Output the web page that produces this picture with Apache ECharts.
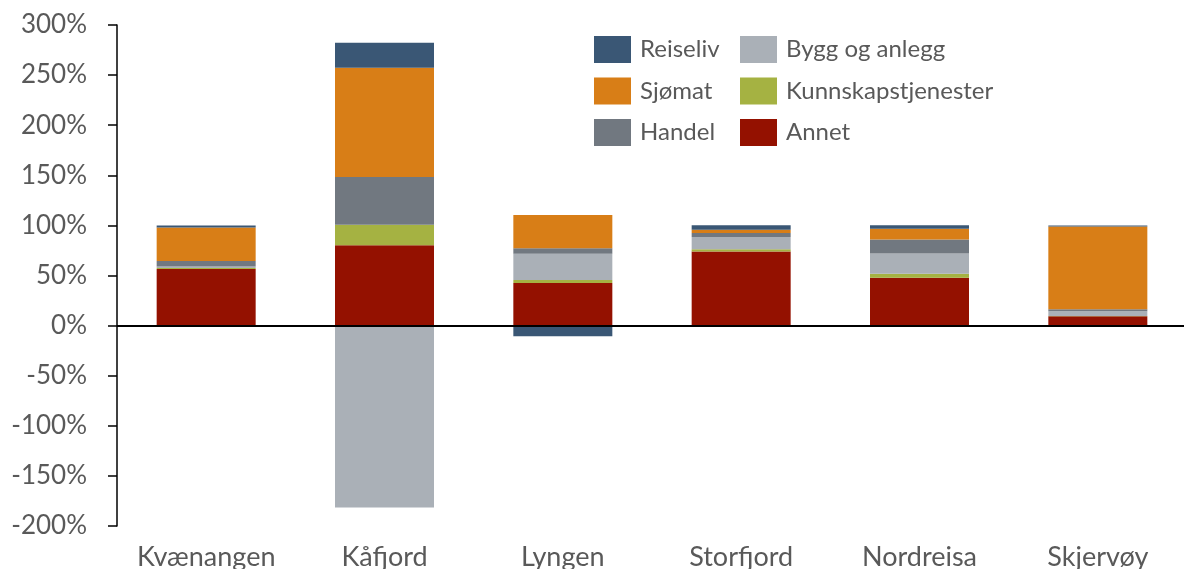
<!DOCTYPE html>
<html>
<head>
<meta charset="utf-8">
<script src="https://cdn.jsdelivr.net/npm/echarts@6/dist/echarts.min.js"></script>
<style>
  html, body { margin: 0; padding: 0; background: #fff; }
  #chart { width: 1184px; height: 569px; }
</style>
</head>
<body>
<div id="chart"></div>
<script>
// kommuner
var categories = ['Kvænangen', 'Kåfjord', 'Lyngen', 'Storfjord', 'Nordreisa', 'Skjervøy'];

// andel av vekst, prosent (lest av bildet)
var annet       = [56.5,  80.3, 42.5, 74.0, 47.8,  9.3];
var kunnskap    = [ 1.0,  20.3,  3.0,  2.3,  4.0,  0.3];
var bygg        = [ 1.5, -181.5, 26.2, 12.0, 20.2,  4.6];
var handel      = [ 5.5,  47.8,  5.6,  4.0, 14.0,  2.0];
var sjomat      = [33.5, 109.0, 33.2,  3.3, 10.6, 82.6];
var reiseliv    = [ 2.0,  25.0, -10.6, 4.6,  3.6,  1.2];

var yTicks = { min: -200, max: 300, interval: 50 };

var colors = {
    'Reiseliv': '#3a5775',
    'Sjømat': '#d87e17',
    'Handel': '#717880',
    'Bygg og anlegg': '#aab0b7',
    'Kunnskapstjenester': '#a5b242',
    'Annet': '#941100'
};

var textColor = '#595959';
var fontFam = 'Lato, "Open Sans", sans-serif';

function bar(name, data) {
    return {
        name: name,
        type: 'bar',
        stack: 'total',
        barWidth: 99,
        data: data,
        itemStyle: { color: colors[name] },
        emphasis: { disabled: true }
    }
}

var legendBase = {
    orient: 'vertical',
    top: 36,
    padding: 0,
    itemWidth: 37,
    itemHeight: 27,
    itemGap: 14.5,
    icon: 'rect',
    selectedMode: false,
    textStyle: { color: textColor, fontSize: 24, fontFamily: fontFam, padding: [0, 0, 0, 4] }
};

var series = [
    bar('Annet', annet),
    bar('Kunnskapstjenester', kunnskap),
    bar('Bygg og anlegg', bygg),
    bar('Handel', handel),
    bar('Sjømat', sjomat),
    bar('Reiseliv', reiseliv)
];
// nullinje
series[0].markLine = {
    silent: true,
    symbol: ['none', 'none'],
    label: { show: false },
    lineStyle: { color: '#000', width: 2, type: 'solid' },
    data: [{ yAxis: 0 }]
};

var option = {
    animation: false,
    backgroundColor: '#fff',
    grid: { left: 117, top: 25, width: 1070, bottom: 43, containLabel: false, outerBoundsMode: 'none' },
    legend: [
        Object.assign({}, legendBase, { left: 594, data: ['Reiseliv', 'Sjømat', 'Handel'] }),
        Object.assign({}, legendBase, { left: 740, data: ['Bygg og anlegg', 'Kunnskapstjenester', 'Annet'] })
    ],
    xAxis: {
        type: 'category',
        data: categories,
        axisLine: { show: false, onZero: false },
        axisTick: { show: false },
        axisLabel: { color: textColor, fontSize: 27, fontFamily: fontFam, margin: 18, interval: 0, hideOverlap: false }
    },
    yAxis: {
        type: 'value',
        min: yTicks.min,
        max: yTicks.max,
        interval: yTicks.interval,
        splitLine: { show: false },
        axisLine: { show: true, lineStyle: { color: '#000', width: 1.5 } },
        axisTick: { show: true, length: 9, lineStyle: { color: '#000', width: 1.5 } },
        axisLabel: { color: textColor, fontSize: 26, fontFamily: fontFam, margin: 30, formatter: '{value}%' }
    },
    series: series
};

echarts.init(document.getElementById('chart')).setOption(option);
</script>
</body>
</html>
